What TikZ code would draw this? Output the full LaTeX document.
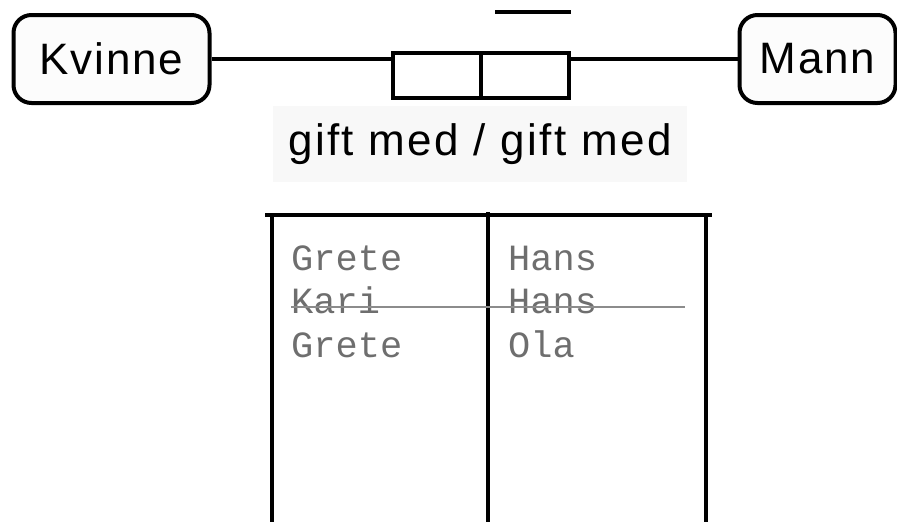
\documentclass[tikz,border=0pt]{standalone}
\usepackage{fontspec}
\setmainfont{Liberation Sans}
\setmonofont{Liberation Mono}
\usetikzlibrary{positioning}
\definecolor{paper}{HTML}{FCFCFC}
\definecolor{tag}{HTML}{F8F8F8}
\definecolor{ink}{HTML}{6E6E6E}
\definecolor{strike}{HTML}{8C8C8C}

\begin{document}
\begin{tikzpicture}[x=1pt,y=-1pt,
 ent/.style={draw,line width=4pt,rounded corners=18pt,fill=paper,minimum width=196pt,minimum height=88pt,font=\addfontfeatures{LetterSpace=4}\fontsize{44}{44}\selectfont},
 cell/.style={draw,line width=4pt,fill=white,minimum width=88pt,minimum height=45pt,inner sep=0pt},
 rel/.style={line width=3.5pt},
 row/.style={anchor=base west,inner sep=0pt,text=ink,font=\ttfamily\fontsize{37}{37}\selectfont}]
 \useasboundingbox (0,0) rectangle (897,522);
 % entity boxes and the role pair between them
 \node[ent] (kvinne) at (111.5,59) {Kvinne};
 \node[ent,minimum width=156pt] (mann) at (817.5,59) {Mann};
 \node[cell] (roleL) at (436.5,75) {};
 \node[cell] (roleR) at (524.5,75) {};
 \draw[rel] (kvinne.east) -- (kvinne.east -| roleL.west);
 \draw[rel] (mann.west -| roleR.east) -- (mann.west);
 \draw[line width=4pt] (495,12) -- (571,12);
 \node[fill=tag,minimum width=414pt,minimum height=76pt,font=\addfontfeatures{LetterSpace=5.5}\fontsize{44}{44}\selectfont] (lbl) at (480,144) {gift med / gift med};
 % population table
 \draw[rel] (265,215) -- (712,215);
 \draw[rel] (272,215) -- (272,522);
 \draw[rel] (488,212) -- (488,522);
 \draw[rel] (706,215) -- (706,522);
 \node[row] (k1) at (291,270) {Grete}; \node[row] (m1) at (508,270) {Hans};
 \node[row] (k2) at (291,313) {Kari};  \node[row] (m2) at (508,313) {Hans};
 \node[row] (k3) at (291,357) {Grete}; \node[row] (m3) at (508,357) {Ola};
 \draw[strike,line width=2pt] (k2.west |- 0,307) -- (685,307);
\end{tikzpicture}
\end{document}
